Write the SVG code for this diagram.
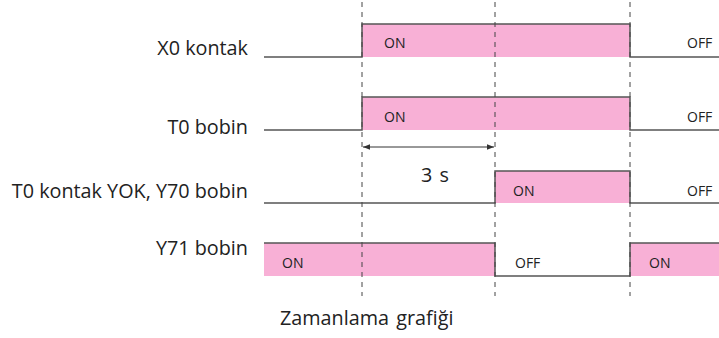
<svg xmlns="http://www.w3.org/2000/svg" width="719" height="338" viewBox="0 0 719 338">
  <style>
    .lbl { font-family: "Open Sans", "Noto Sans", sans-serif; font-size: 19.8px; fill: #222; }
    .st { font-family: "Open Sans", "Noto Sans", sans-serif; font-size: 14px; font-weight: 500; fill: #222; }
    .fill { fill: #F8B0D6; stroke: none; }
    .wave { fill: none; stroke: #555; stroke-width: 1.5; }
    .grid { stroke: #444; stroke-width: 1; stroke-dasharray: 5 5; fill: none; }
    .dim { stroke: #333; stroke-width: 1; fill: none; }
  </style>
  <defs>
    <marker id="ah" viewBox="0 0 10 10" refX="10" refY="5" markerWidth="7" markerHeight="7" orient="auto-start-reverse">
      <path d="M0,1 L10,5 L0,9 z" fill="#333"/>
    </marker>
  </defs>
  <rect width="719" height="338" fill="#fff"/>

  <!-- X0 contact -->
  <g id="x0">
    <rect class="fill" x="362" y="24" width="268" height="33"/>
    <path class="wave" d="M264,57 H362 V24 H630 V57 H719"/>
    <text class="lbl" x="248" y="55" text-anchor="end">X0 kontak</text>
    <text class="st" x="384" y="48">ON</text>
    <text class="st" x="687" y="48">OFF</text>
  </g>

  <!-- T0 coil -->
  <g id="t0">
    <rect class="fill" x="362" y="97" width="268" height="33"/>
    <path class="wave" d="M264,130 H362 V97 H630 V130 H719"/>
    <text class="lbl" x="248" y="134" text-anchor="end">T0 bobin</text>
    <text class="st" x="384" y="122">ON</text>
    <text class="st" x="687" y="122">OFF</text>
  </g>

  <!-- T0 NO contact / Y70 coil -->
  <g id="y70">
    <rect class="fill" x="495" y="171" width="135" height="32"/>
    <path class="wave" d="M264,203 H495 V171 H630 V203 H719"/>
    <text class="lbl" x="248" y="198" text-anchor="end">T0 kontak YOK, Y70 bobin</text>
    <text class="st" x="513" y="196">ON</text>
    <text class="st" x="687" y="196">OFF</text>
  </g>

  <!-- Y71 coil -->
  <g id="y71">
    <rect class="fill" x="264" y="243" width="231" height="33"/>
    <rect class="fill" x="630" y="243" width="89" height="33"/>
    <path class="wave" d="M264,243 H495 V276 H630 V243 H719"/>
    <text class="lbl" x="248" y="255" text-anchor="end">Y71 bobin</text>
    <text class="st" x="282" y="268">ON</text>
    <text class="st" x="515" y="268">OFF</text>
    <text class="st" x="649" y="268">ON</text>
  </g>

  <!-- time markers and delay span -->
  <g id="connectors">
    <line class="grid" x1="362" y1="2" x2="362" y2="296"/>
    <line class="grid" x1="495" y1="2" x2="495" y2="296"/>
    <line class="grid" x1="630" y1="2" x2="630" y2="296"/>
    <line class="dim" x1="363" y1="147" x2="494" y2="147" marker-start="url(#ah)" marker-end="url(#ah)"/>
    <text class="lbl" x="421" y="182" word-spacing="2">3 s</text>
  </g>

  <text class="lbl" x="280" y="325" word-spacing="2">Zamanlama grafiği</text>
</svg>
